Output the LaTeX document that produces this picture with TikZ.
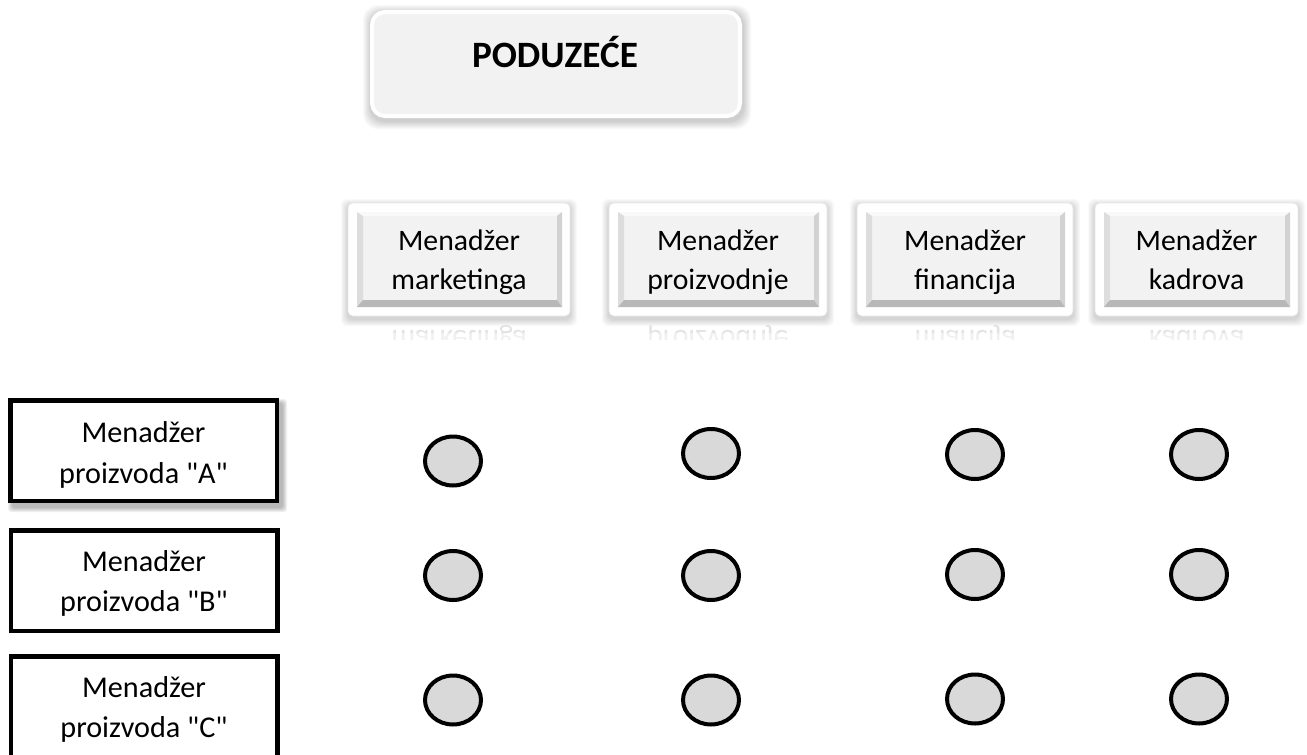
\documentclass[tikz,border=0pt]{standalone}
\usepackage{fontspec}
\setmainfont{Carlito}
\usetikzlibrary{shapes.geometric}
\definecolor{facegray}{HTML}{F2F2F2}
\definecolor{dotgray}{HTML}{D9D9D9}
\definecolor{bevtopc}{HTML}{F9F9F9}
\definecolor{bevleftc}{HTML}{DDDDDD}
\definecolor{bevrightc}{HTML}{D2D2D2}
\definecolor{bevbotc}{HTML}{B8B8B8}
\tikzset{
  podbox/.style={draw=white, line width=4pt, fill=facegray, rounded corners=13pt, inner sep=0pt},
  framebox/.style={fill=white, draw=black!9, line width=0.6pt, rounded corners=5pt, inner sep=0pt},
  dot/.style={ellipse, draw=black, line width=4pt, fill=dotgray, minimum width=56pt, minimum height=49pt, inner sep=0pt},
  pbox/.style={draw=black, line width=4.5pt, fill=white, minimum width=266.5pt, minimum height=100.5pt, inner sep=0pt},
  lbl/.style={font=\fontsize{30.2}{36}\selectfont, anchor=base, inner sep=0pt},
  toplbl/.style={font=\fontsize{29.7}{35}\selectfont, anchor=base, inner sep=0pt},
  podlbl/.style={font=\fontsize{37.2}{43}\selectfont\bfseries, anchor=base, inner sep=0pt},
}
\newcommand\mgrbox[4]{%
  \pgfmathsetmacro\xa{#2}\pgfmathsetmacro\xb{#3}%
  \pgfmathsetmacro\xc{(#2+#3)/2}%
  \foreach \i in {1,...,7}{\fill[black,opacity=0.025,rounded corners=6pt] ({\xa-\i},{203-\i+3}) rectangle ({\xb+\i},{316+\i+3});}
  \node[framebox, minimum width={(\xb-\xa)*1pt}, minimum height=113pt] (#1) at (\xc,259.5) {};
  \pgfmathsetmacro\ba{\xa+9}\pgfmathsetmacro\bb{\xb-8}%
  \pgfmathsetmacro\fa{\ba+6}\pgfmathsetmacro\fb{\bb-5}%
  \fill[facegray] (\fa,216) rectangle (\fb,300);
  \fill[bevtopc] (\ba,212) -- (\bb,212) -- (\fb,216) -- (\fa,216) -- cycle;
  \fill[bevleftc] (\ba,212) -- (\fa,216) -- (\fa,300) -- (\ba,307) -- cycle;
  \fill[bevrightc] (\bb,212) -- (\bb,307) -- (\fb,300) -- (\fb,216) -- cycle;
  \fill[bevbotc] (\ba,307) -- (\bb,307) -- (\fb,300) -- (\fa,300) -- cycle;
  \node[toplbl] (#1a) at (\xc,250) {Menadžer};
  \node[toplbl] (#1b) at (\xc,289.5) {#4};
  \begin{scope}
    \clip (\xa,324) rectangle (\xb,333);
    \node[toplbl, text=black!11, yscale=-1] (#1r) at (\xc,330) {#4};
  \end{scope}
  \begin{scope}
    \clip (\xa,333) rectangle (\xb,339);
    \node[toplbl, text=black!6, yscale=-1] (#1s) at (\xc,330) {#4};
  \end{scope}
}
\begin{document}
\begin{tikzpicture}[x=1pt,y=-1pt]
\useasboundingbox (0,0) rectangle (1307,755);
\fill[white] (0,0) rectangle (1307,755);

% PODUZECE
\foreach \i in {1,...,8}{\fill[black,opacity=0.025,rounded corners=15pt] ({370-\i+1},{10-\i+3}) rectangle ({742+\i+1},{118+\i+3});}
\node[podbox, minimum width=368pt, minimum height=104pt] (pod) at (556,64) {};
\node[podlbl] (podt) at (555,67) {PODUZEĆE};

% top manager boxes
\mgrbox{mk}{348}{570}{marketinga}
\mgrbox{pr}{609}{827}{proizvodnje}
\mgrbox{fi}{857}{1073}{financija}
\mgrbox{ka}{1095}{1298}{kadrova}

% left product manager boxes
\foreach \i in {0,...,4}{\fill[black,opacity=0.06,rounded corners=3pt] ({12-\i},{403-\i}) rectangle ({283+\i},{508+\i});}
\node[pbox] (pa) at (143.5,450.5) {};
\node[pbox] (pb) at (144,580.5) {};
\node[pbox] (pc) at (144,706.5) {};
\node[lbl] (paa) at (143.5,442) {Menadžer};
\node[lbl] (pab) at (143.5,483) {proizvoda \textquotedbl A\textquotedbl};
\node[lbl] (pba) at (144,571) {Menadžer};
\node[lbl] (pbb) at (144,611) {proizvoda \textquotedbl B\textquotedbl};
\node[lbl] (pca) at (144,697) {Menadžer};
\node[lbl] (pcb) at (144,737) {proizvoda \textquotedbl C\textquotedbl};

% matrix dots
\node[dot] (d11) at (453,461) {};
\node[dot] (d12) at (711,453.5) {};
\node[dot] (d13) at (975,454.5) {};
\node[dot] (d14) at (1199,454.5) {};
\node[dot] (d21) at (453,575.5) {};
\node[dot] (d22) at (711,575.5) {};
\node[dot] (d23) at (975,574.5) {};
\node[dot] (d24) at (1199,574.5) {};
\node[dot] (d31) at (453,700) {};
\node[dot] (d32) at (711,700) {};
\node[dot] (d33) at (975,699) {};
\node[dot] (d34) at (1199,699) {};
\end{tikzpicture}
\end{document}
